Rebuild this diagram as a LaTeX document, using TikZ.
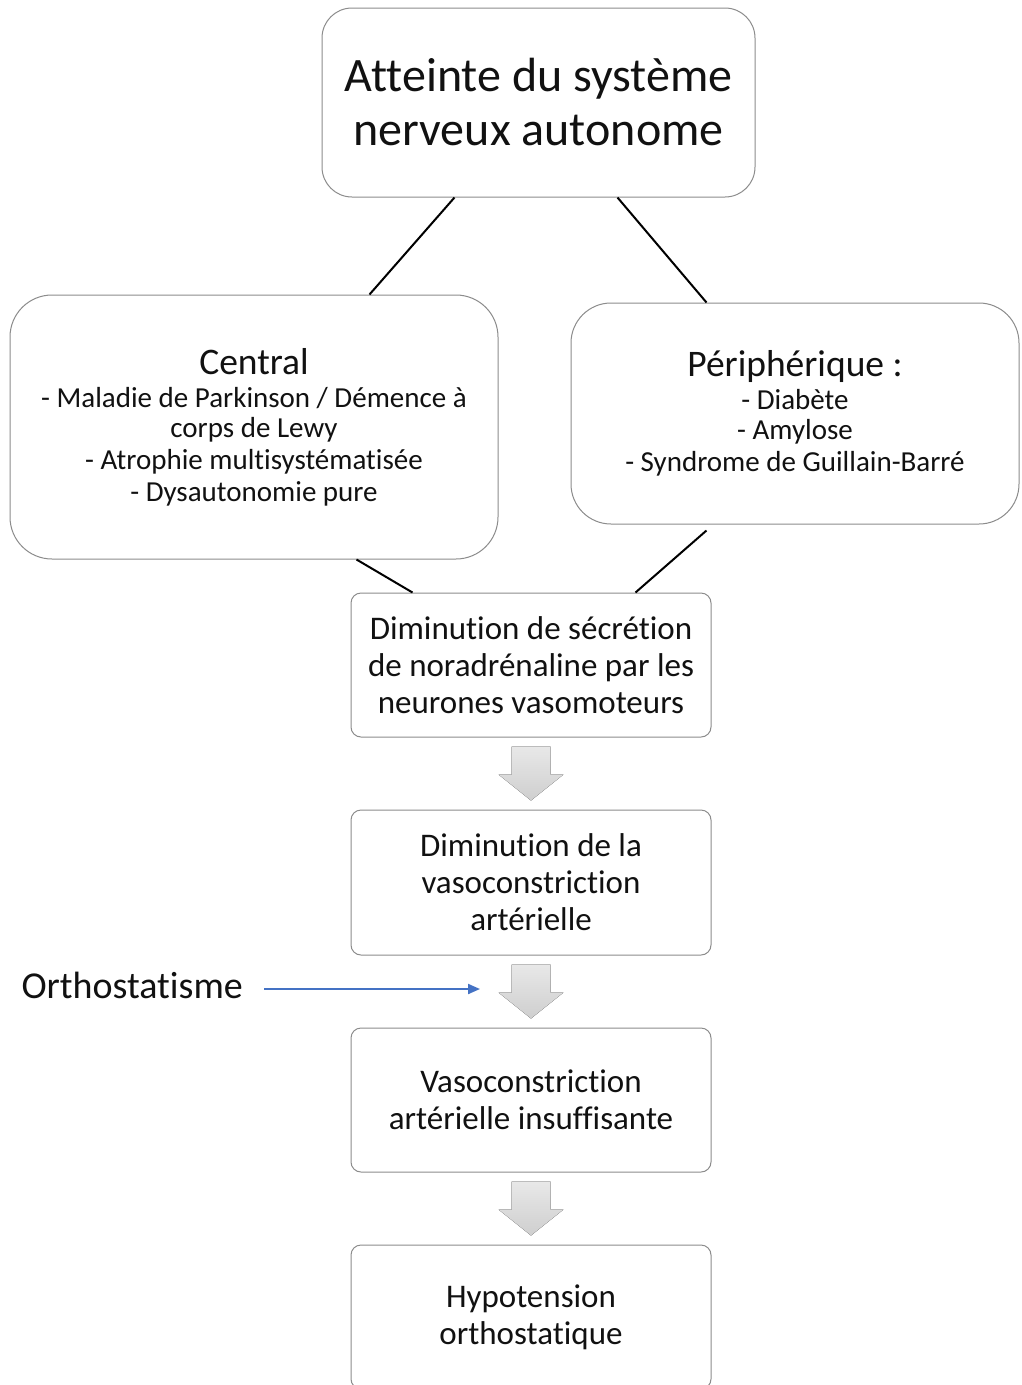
\documentclass[tikz,border=0pt]{standalone}
\usepackage{fontspec}
\setmainfont{Carlito}[Ligatures=NoCommon]
\usetikzlibrary{calc,arrows.meta}
\definecolor{boxline}{HTML}{8C8C8C}
\definecolor{bluearr}{HTML}{4472C4}
\definecolor{txt}{HTML}{111111}
\begin{document}
\begin{tikzpicture}[x=1pt,y=-1pt,
  box/.style={draw=boxline, line width=1pt, fill=white, align=center, inner sep=0pt, text=txt},
  smallbox/.style={box, rounded corners=10pt, minimum width=360pt, minimum height=144pt,
    font=\fontsize{33}{37}\selectfont},
  link/.style={draw=black, line width=2pt},
  grayarrow/.style={top color=gray!18, bottom color=gray!38, draw=none},
  bluelink/.style={draw=bluearr, line width=2pt, -{Triangle[length=12pt,width=10pt]}}]
\useasboundingbox (0,0) rectangle (1021,1385);
\clip (0,0) rectangle (1021,1385);
\fill[white] (0,0) rectangle (1021,1385);

% nodes
\node[box, rounded corners=30pt, minimum width=433pt, minimum height=189pt,
  font=\fontsize{48}{54}\selectfont] (top) at (538.5,102.5)
  {Atteinte du système\\nerveux autonome};

\node[box, rounded corners=42pt, minimum width=488pt, minimum height=264pt,
  font=\fontsize{29}{32}\selectfont] (central) at (254,427)
  {{\fontsize{37.5}{40}\selectfont Central}\\[1pt]
   - Maladie de Parkinson / Démence à\\[-2pt]
   corps de Lewy\\
   - Atrophie multisystématisée\\
   - Dysautonomie pure};

\node[box, rounded corners=40pt, minimum width=448pt, minimum height=221pt,
  font=\fontsize{29}{32}\selectfont] (periph) at (795,413.5)
  {{\fontsize{37.5}{40}\selectfont Périphérique :}\\[1pt]
   - Diabète\\[-2pt]
   - Amylose\\
   - Syndrome de Guillain-Barré};

\node[smallbox] (b3) at (531,665)
  {Diminution de sécrétion\\de noradrénaline par les\\neurones vasomoteurs};
\node[smallbox, minimum height=145pt] (b4) at (531,882.5)
  {Diminution de la\\vasoconstriction\\artérielle};
\node[smallbox] (b5) at (531,1100)
  {Vasoconstriction\\artérielle insuffisante};
\node[smallbox] (b6) at (531,1317)
  {Hypotension\\orthostatique};

\node[anchor=east, inner xsep=21pt, inner ysep=0pt, text=txt,
  font=\fontsize{38}{42}\selectfont] (orth) at (264,985) {Orthostatisme};
\coordinate (orthend) at (480,989);

% connectors
\draw[link] ($(top.south west)+(133,0)$) -- ($(central.north west)+(360,0)$);
\draw[link] ($(top.south west)+(296,0)$) -- ($(periph.north west)+(136,0)$);
\draw[link] ($(central.south west)+(347,0)$) -- ($(b3.north west)+(62,0)$);
\draw[link] ($(periph.south west)+(136,6)$) -- ($(b3.north west)+(285,0)$);

\foreach \a/\b in {b3/b4, b4/b5, b5/b6}{
  \fill[grayarrow, shift={(\a.south)}]
    (-19.5,9) -- (19.5,9) -- (19.5,37) -- (32.5,37) -- (0,63) -- (-32.5,37) -- (-19.5,37) -- cycle;
}

\draw[bluelink] (orth.east |- orthend) -- (orthend);
\end{tikzpicture}
\end{document}
